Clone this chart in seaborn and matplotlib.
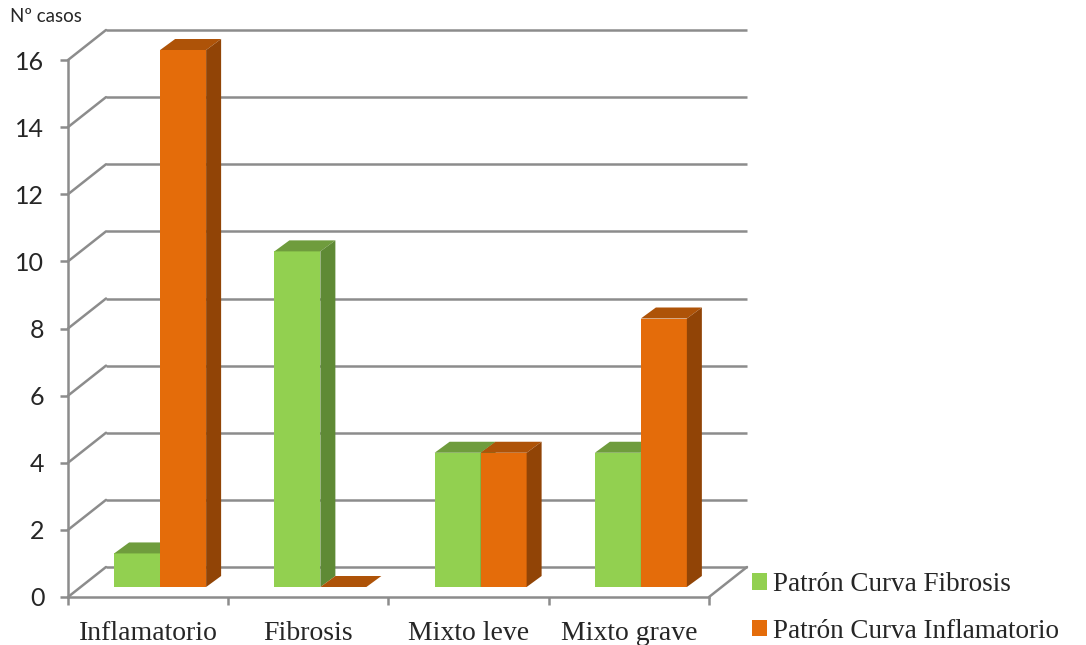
import pandas as pd
import matplotlib
matplotlib.use("Agg")
import matplotlib.pyplot as plt
from matplotlib.patches import Polygon, Patch
from matplotlib.transforms import ScaledTranslation
import seaborn as sns

# Data
categorias = ["Inflamatorio", "Fibrosis", "Mixto leve", "Mixto grave"]
series = ["Patrón Curva Fibrosis", "Patrón Curva Inflamatorio"]
patron_fibrosis = [1, 10, 4, 4]
patron_inflamatorio = [16, 0, 4, 8]
yticks = [0, 2, 4, 6, 8, 10, 12, 14, 16]

# Colours (front, top, side)
colores = ["#92D050", "#E46C0A"]
colores_top = ["#6F9C3D", "#AE5308"]
colores_side = ["#5F8A35", "#914406"]
gris = "#8C8C8C"

df = pd.DataFrame({
    "categoria": categorias * 2,
    "casos": patron_fibrosis + patron_inflamatorio,
    "serie": [series[0]] * len(categorias) + [series[1]] * len(categorias),
})

sns.set_style("white")
fig = plt.figure(figsize=(10.86, 6.45), dpi=100)
ax = fig.add_axes([68 / 1086, 48 / 645, 641 / 1086, 537 / 645])

sns.barplot(data=df, x="categoria", y="casos", hue="serie", palette=colores,
            width=0.574, errorbar=None, linewidth=0, saturation=1,
            legend=False, ax=ax)

ax.set_xlim(-0.5, 3.5)
ax.set_ylim(0, 16)
ax.set_xlabel("")
ax.set_ylabel("")

# pixel -> data conversion factors
px_x = ax.bbox.width / 4.0
px_y = ax.bbox.height / 16.0

# 3D-like offsets (pixels)
bar_shift = ScaledTranslation(12 / 100, 10 / 100, fig.dpi_scale_trans)
depth_x, depth_y = 15 / px_x, 11 / px_y
back_x, back_y = 38 / px_x, 30 / px_y

# back wall gridlines + left wall diagonals
for v in yticks:
    ax.plot([-0.5 + back_x, 3.5 + back_x], [v + back_y, v + back_y],
            color=gris, lw=1.8, zorder=1, clip_on=False, solid_capstyle="butt")
    ax.plot([-0.5, -0.5 + back_x], [v, v + back_y],
            color=gris, lw=1.8, zorder=1, clip_on=False)
# floor right edge
ax.plot([3.5, 3.5 + back_x], [0, back_y], color=gris, lw=1.8, zorder=1, clip_on=False)

# bars: front face shifted + top and side faces
trans = ax.transData + bar_shift
for j, cont in enumerate(ax.containers):
    for bar in cont:
        x0, y0 = bar.get_x(), bar.get_y()
        w, h = bar.get_width(), bar.get_height()
        bar.set_transform(trans)
        bar.set_clip_on(False)
        bar.set_zorder(3 + j)
        top = Polygon([(x0, y0 + h), (x0 + w, y0 + h),
                       (x0 + w + depth_x, y0 + h + depth_y), (x0 + depth_x, y0 + h + depth_y)],
                      closed=True, facecolor=colores_top[j], edgecolor="none",
                      transform=trans, zorder=3 + j, clip_on=False)
        side = Polygon([(x0 + w, y0), (x0 + w + depth_x, y0 + depth_y),
                        (x0 + w + depth_x, y0 + h + depth_y), (x0 + w, y0 + h)],
                       closed=True, facecolor=colores_side[j], edgecolor="none",
                       transform=trans, zorder=3 + j, clip_on=False)
        ax.add_patch(top)
        ax.add_patch(side)

# axes styling
for s in ["top", "right"]:
    ax.spines[s].set_visible(False)
for s in ["left", "bottom"]:
    ax.spines[s].set_color(gris)
    ax.spines[s].set_linewidth(1.8)

ax.set_yticks(yticks)
ax.set_yticklabels([str(v) for v in yticks], fontfamily="Lato", fontsize=18)
ax.tick_params(axis="y", length=6, width=1.8, color=gris, pad=11, left=True)

ax.set_xticks(range(len(categorias)))
ax.set_xticklabels(categorias, fontfamily="Liberation Serif", fontsize=20)
ax.set_xticks([-0.5, 0.5, 1.5, 2.5, 3.5], minor=True)
ax.tick_params(axis="x", which="major", length=0, pad=17)
ax.tick_params(axis="x", which="minor", length=6, width=1.8, color=gris, bottom=True)

fig.text(10 / 1086, 1 - 17 / 645, "Nº casos", fontfamily="Lato", fontsize=13.5, va="center")

handles = [Patch(facecolor=c, edgecolor="none") for c in colores]
fig.legend(handles, series, loc="upper left", bbox_to_anchor=(752 / 1086, 1 - 572 / 645),
           frameon=False, prop={"family": "Liberation Serif", "size": 19.5},
           handlelength=0.56, handleheight=0.56, handletextpad=0.2,
           labelspacing=0.8, borderpad=0, borderaxespad=0)

fig.savefig("out.png", dpi=100)
